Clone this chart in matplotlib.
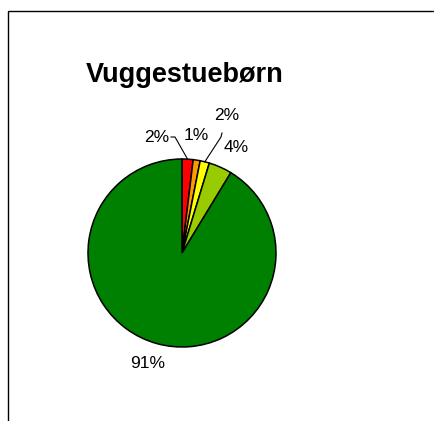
import numpy as np
import matplotlib
matplotlib.use("Agg")
from matplotlib import pyplot as plt
from matplotlib.patches import Rectangle

W, H = 435, 421

# slice shares (percent), clockwise from 12 o'clock
shares = [1.9, 1.2, 1.6, 4.0, 91.3]
colors = ["#FF0000", "#FF9900", "#FFFF00", "#99CC00", "#008000"]
title = "Vuggestuebørn"

# label positions in pixels (x from left, y from top) - layout only
label_pos = [(157, 137), (196, 135), (227, 116), (236, 147), (148, 363)]
# leader line elbows for the slices that have one (index -> list of points)
leaders = {0: [(175, 137), (171, 137)], 2: [(221, 137), (222, 133)]}

plt.rcParams["font.family"] = ["Liberation Sans", "DejaVu Sans"]

fig = plt.figure(figsize=(W / 100, H / 100), dpi=100)
ax = fig.add_axes([0, 0, 1, 1])

def px(x, y):
    return x, H - y

# chart frame (only top and left edges are inside the picture)
fig.patches.append(Rectangle((8 / W, -0.2), 2, (H - 11) / H + 0.2,
                             transform=fig.transFigure, fill=False,
                             edgecolor="black", linewidth=1))

cx, cy = px(182, 253)
r = 94
wedges, _ = ax.pie(shares, colors=colors, startangle=90, counterclock=False,
                   center=(cx, cy), radius=r, frame=True,
                   wedgeprops=dict(edgecolor="black", linewidth=1.1))
ax.set_xlim(0, W)
ax.set_ylim(0, H)
ax.set_aspect("equal")
ax.axis("off")

for i, (w, v) in enumerate(zip(wedges, shares)):
    lx, ly = px(*label_pos[i])
    ax.text(lx, ly, "{}%".format(int(round(v))), ha="center", va="center",
            fontsize=12.5, color="black")
    if i in leaders:
        mid = np.deg2rad((w.theta1 + w.theta2) / 2)
        pts = [(cx + r * np.cos(mid), cy + r * np.sin(mid))]
        pts += [px(*p) for p in leaders[i]]
        xs, ys = zip(*pts)
        ax.plot(xs, ys, color="black", linewidth=0.8)

tx, ty = px(185, 82)
ax.text(tx, ty, title, ha="center", va="baseline", fontsize=19.5,
        fontweight="bold", color="black")

fig.savefig("out.png", dpi=100)
